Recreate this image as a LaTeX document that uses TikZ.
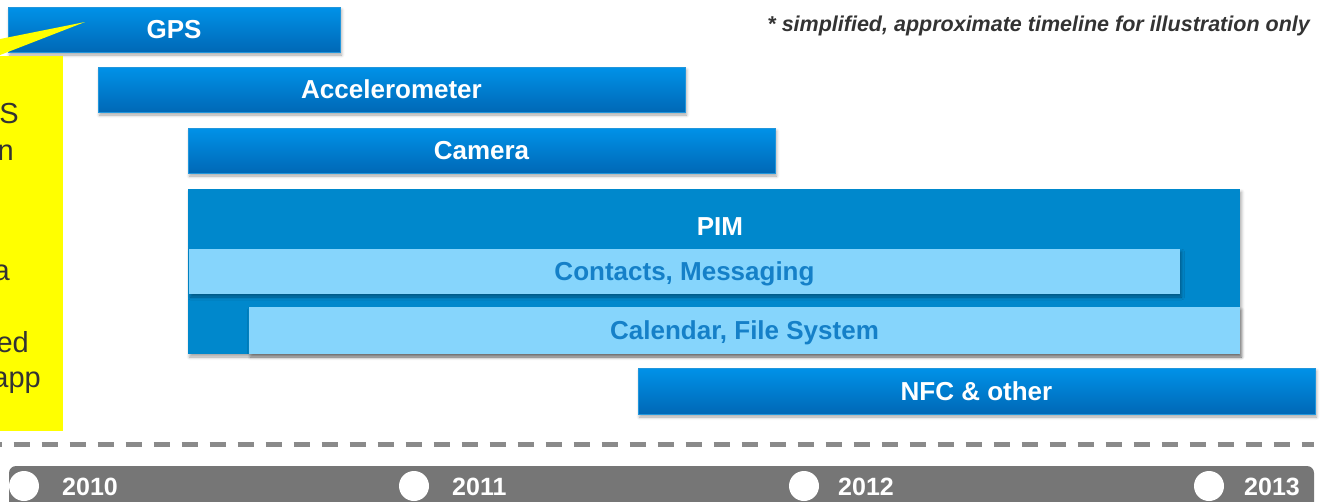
\documentclass[tikz,border=0pt]{standalone}
\usepackage{fontspec}
\setmainfont{Liberation Sans}
\usetikzlibrary{shadows.blur}

\definecolor{barTop}{HTML}{0092E8}
\definecolor{barBot}{HTML}{0068B6}
\definecolor{barEdge}{HTML}{2196DC}
\definecolor{pimBlue}{HTML}{0088CC}
\definecolor{lightBlue}{HTML}{86D5FC}
\definecolor{lightText}{HTML}{1580C8}
\definecolor{noteGray}{HTML}{333333}
\definecolor{axisGray}{HTML}{767676}
\definecolor{dashGray}{HTML}{8A8A8A}
\definecolor{calloutYellow}{HTML}{FFFF00}

\tikzset{
  softshadow/.style={blur shadow={shadow xshift=1.5pt, shadow yshift=-3pt,
      shadow blur radius=3pt, shadow opacity=35}},
  bartext/.style={font=\fontsize{26}{30}\selectfont\bfseries,
      text height=18.6pt, text depth=0pt},
  bar/.style={softshadow, draw=barEdge, line width=1pt,
      top color=barTop, bottom color=barBot, inner sep=0pt,
      minimum height=45pt, text=white, bartext},
  pimbox/.style={softshadow, fill=pimBlue, inner sep=0pt},
  lightbar/.style={softshadow, fill=lightBlue, inner sep=0pt,
      minimum height=45pt, text=lightText, bartext},
  calltext/.style={anchor=base east, inner sep=0pt, text=noteGray,
      font=\fontsize{29}{34}\selectfont},
  axisbar/.style={fill=axisGray, rounded corners=7pt, inner sep=0pt},
  yeardot/.style={circle, fill=white, minimum size=30pt, inner sep=0pt},
  yearlabel/.style={anchor=base west, inner sep=0pt, text=white,
      font=\fontsize{25}{30}\selectfont\bfseries},
  gridline/.style={draw=dashGray, line width=4.5pt,
      dash pattern=on 16pt off 12pt, dash phase=14.3pt},
}

\begin{document}
\begin{tikzpicture}[x=1pt, y=-1pt]
\useasboundingbox (0,0) rectangle (1323,501);
\clip (0,0) rectangle (1323,501);

% feature bars
\node[bar, minimum width=332pt] (gps) at (174,29.5) {GPS};
\node[bar, minimum width=587pt] (acc) at (391.5,89.5) {Accelerometer};
\node[bar, minimum width=587pt] (cam) at (481.5,150.5) {Camera};

% PIM group with its two sub-bars
\node[pimbox, minimum width=1052pt, minimum height=165pt] (pim) at (714,271.5) {};
\node[text=white, bartext, inner sep=0pt] (pimlabel) at (720,226) {PIM};
\node[lightbar, minimum width=991pt] (contacts) at (684.5,271.5) {Contacts, Messaging};
\node[lightbar, minimum width=991pt, minimum height=47pt] (calendar) at (744.5,330.5) {Calendar, File System};

\node[bar, minimum width=677pt, minimum height=46pt] (nfc) at (976.5,391) {NFC \& other};

% yellow callout pointing into the GPS bar
\fill[calloutYellow] (-5,40) -- (85,22) -- (-5,57) -- cycle;
\fill[calloutYellow] (-5,56) rectangle (63,431);
\node[calltext] (c1) at (19,123) {S};
\node[calltext] (c2) at (14,160) {n};
\node[calltext] (c3) at (10,280) {a};
\node[calltext] (c4) at (29,352) {ed};
\node[calltext] (c5) at (41,387) {app};

% footnote
\node[anchor=base east, inner sep=0pt, text=noteGray,
      font=\fontsize{21.5}{26}\selectfont\bfseries\itshape] (note) at (1310,31)
  {* simplified, approximate timeline for illustration only};

% dashed separator
\coordinate (dashL) at (0,444.5);
\coordinate (dashR) at (1314,444.5);
\draw[gridline] (dashL) -- (dashR);

% time axis
\node[axisbar, minimum width=1305pt, minimum height=64pt] (axis) at (661.5,498) {};
\node[yeardot] (d2010) at (24,486) {};
\node[yeardot] (d2011) at (414,486) {};
\node[yeardot] (d2012) at (804,486) {};
\node[yeardot] (d2013) at (1209,486) {};
\node[yearlabel] (y2010) at (62,495) {2010};
\node[yearlabel] (y2011) at (452,495) {2011};
\node[yearlabel] (y2012) at (838,495) {2012};
\node[yearlabel] (y2013) at (1244,495) {2013};
\end{tikzpicture}
\end{document}
